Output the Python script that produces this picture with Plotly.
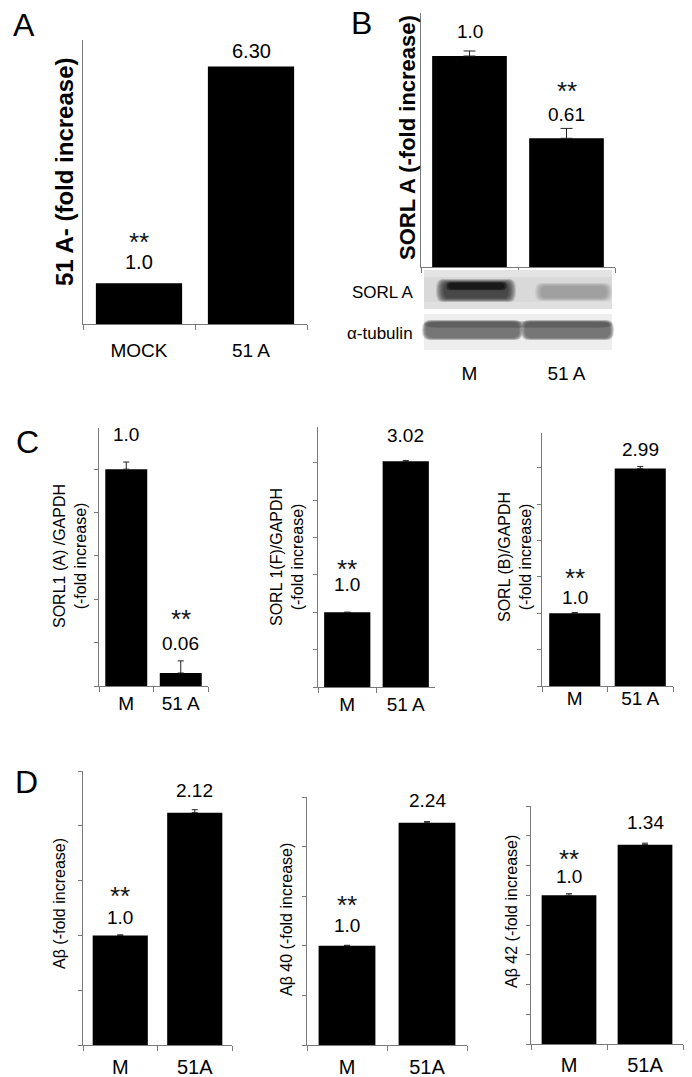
import plotly.graph_objects as go

W, H = 692, 1077

# ---------------- data ----------------
cats_A = ["MOCK", "51 A"]
cats_BC = ["M", "51 A"]
cats_D = ["M", "51A"]

vals_A = [1.0, 6.30]
vals_B = [1.0, 0.61]
vals_C1 = [1.0, 0.06]
vals_C2 = [1.0, 3.02]
vals_C3 = [1.0, 2.99]
vals_D1 = [1.0, 2.12]
vals_D2 = [1.0, 2.24]
vals_D3 = [1.0, 1.34]

err_A = [0.0, 0.0]
err_B = [0.024, 0.047]
err_C1 = [0.033, 0.056]
err_C2 = [0.0, 0.01]
err_C3 = [0.01, 0.03]
err_D1 = [0.005, 0.027]
err_D2 = [0.005, 0.012]
err_D3 = [0.01, 0.01]

labels_A = ["1.0", "6.30"]
labels_B = ["1.0", "0.61"]
labels_C1 = ["1.0", "0.06"]
labels_C2 = ["1.0", "3.02"]
labels_C3 = ["1.0", "2.99"]
labels_D1 = ["1.0", "2.12"]
labels_D2 = ["1.0", "2.24"]
labels_D3 = ["1.0", "1.34"]

stars_A = ["**", ""]
stars_B = ["", "**"]
stars_C1 = ["", "**"]
stars_C2 = ["**", ""]
stars_C3 = ["**", ""]
stars_D1 = ["**", ""]
stars_D2 = ["**", ""]
stars_D3 = ["**", ""]

ytitle_A = "<b>51 A- (fold increase)</b>"
ytitle_B = "<b>SORL A (-fold increase)</b>"
ytitle_C1 = "SORL1 (A) /GAPDH<br>(-fold increase)"
ytitle_C2 = "SORL 1(F)/GAPDH<br>(-fold increase)"
ytitle_C3 = "SORL (B)/GAPDH<br>(-fold increase)"
ytitle_D1 = "Aβ (-fold increase)"
ytitle_D2 = "Aβ 40 (-fold increase)"
ytitle_D3 = "Aβ 42 (-fold increase)"

blot_labels = ["SORL A", "α-tubulin"]
panel_letters = ["A", "B", "C", "D"]

# ---------------- layout / style ----------------
FONT = "Liberation Sans, Arial, Helvetica, sans-serif"
AX = "#7a7a7a"
STAR_FS = 26

panels = [
    dict(cats=cats_A, vals=vals_A, err=err_A, labels=labels_A, stars=stars_A, title=ytitle_A,
         box=(83, 307, 40, 324), ytop=6.95, dtick=None, bw=0.77, lab_off=[21, 16], star_vis=44,
         fs=20, tfs=24, title_xy=(65, 172), standoff=9, xfs=19, cap=4),
    dict(cats=cats_BC, vals=vals_B, err=err_B, labels=labels_B, stars=stars_B, title=ytitle_B,
         box=(421, 615, 13, 267), ytop=1.204, dtick=None, bw=0.77, lab_off=[25, 24], star_vis=50,
         fs=19, tfs=22, title_xy=(407, 138), standoff=89, xfs=19, cap=6),
    dict(cats=cats_BC, vals=vals_C1, err=err_C1, labels=labels_C1, stars=stars_C1, title=ytitle_C1,
         box=(99, 208, 428, 686), ytop=1.19, dtick=0.2, bw=0.77, lab_off=[35, 29], star_vis=57,
         fs=19, tfs=16, title_xy=(70, 556), standoff=0, xfs=19, cap=3),
    dict(cats=cats_BC, vals=vals_C2, err=err_C2, labels=labels_C2, stars=stars_C2, title=ytitle_C2,
         box=(318, 435, 427, 687), ytop=3.48, dtick=0.5, bw=0.79, lab_off=[28, 26], star_vis=46,
         fs=19, tfs=16, title_xy=(287, 557), standoff=0, xfs=19, cap=3),
    dict(cats=cats_BC, vals=vals_C3, err=err_C3, labels=labels_C3, stars=stars_C3, title=ytitle_C3,
         box=(542, 673, 433, 686), ytop=3.48, dtick=0.5, bw=0.78, lab_off=[16, 19], star_vis=38,
         fs=19, tfs=16, title_xy=(515, 557), standoff=-5, xfs=19, cap=3),
    dict(cats=cats_D, vals=vals_D1, err=err_D1, labels=labels_D1, stars=stars_D1, title=ytitle_D1,
         box=(83, 232, 771, 1045), ytop=2.5, dtick=0.5, bw=0.74, lab_off=[18, 22], star_vis=42,
         fs=19, tfs=16, title_xy=(59, 904), standoff=4, xfs=20, cap=3),
    dict(cats=cats_D, vals=vals_D2, err=err_D2, labels=labels_D2, stars=stars_D2, title=ytitle_D2,
         box=(307, 467, 797, 1045), ytop=2.5, dtick=0.5, bw=0.71, lab_off=[20, 22], star_vis=43,
         fs=19, tfs=16, title_xy=(286, 920), standoff=4, xfs=20, cap=3),
    dict(cats=cats_D, vals=vals_D3, err=err_D3, labels=labels_D3, stars=stars_D3, title=ytitle_D3,
         box=(531, 683, 806, 1044), ytop=1.6, dtick=0.2, bw=0.72, lab_off=[19, 22], star_vis=39,
         fs=19, tfs=16, title_xy=(511, 912), standoff=3, xfs=20, cap=3),
]

letter_pos = [(24, 25), (361, 23), (27, 442), (26, 782)]


def fx(px):
    return px / W


def fy(py):
    return 1 - py / H


fig = go.Figure()
annotations = []
shapes = []

for i, p in enumerate(panels):
    n = i + 1
    xa = "x" if n == 1 else f"x{n}"
    ya = "y" if n == 1 else f"y{n}"
    x0, x1, ytop_px, ybot_px = p["box"]
    fig.add_trace(go.Bar(
        x=p["cats"], y=p["vals"], xaxis=xa, yaxis=ya,
        width=[p["bw"]] * len(p["cats"]),
        marker=dict(color="black", line=dict(width=0)),
        error_y=dict(type="data", array=p["err"], arrayminus=[0] * len(p["err"]),
                     symmetric=False, color="#222", thickness=1, width=p["cap"],
                     visible=any(e > 0 for e in p["err"])),
        showlegend=False, hoverinfo="skip",
    ))
    xkey = "xaxis" if n == 1 else f"xaxis{n}"
    ykey = "yaxis" if n == 1 else f"yaxis{n}"
    fig.update_layout({
        xkey: dict(domain=[fx(x0), fx(x1)], anchor=ya, type="category",
                   range=[-0.5, len(p["cats"]) - 0.5],
                   showline=True, linecolor=AX, linewidth=1, mirror=False,
                   ticks="outside", tickson="boundaries", ticklen=5, tickcolor=AX,
                   tickwidth=1, ticklabelstandoff=p["standoff"],
                   tickfont=dict(family=FONT, size=p["xfs"], color="black"),
                   showgrid=False, zeroline=False, fixedrange=True),
        ykey: dict(domain=[fy(ybot_px), fy(ytop_px)], anchor=xa,
                   range=[0, p["ytop"]],
                   showline=True, linecolor=AX, linewidth=1,
                   ticks="outside" if p["dtick"] else "", dtick=p["dtick"],
                   tick0=0, ticklen=4, tickcolor=AX, tickwidth=1,
                   showticklabels=False, showgrid=False, zeroline=False,
                   fixedrange=True),
    })
    for j, c in enumerate(p["cats"]):
        annotations.append(dict(
            x=c, y=p["vals"][j], xref=xa, yref=ya, text=p["labels"][j],
            showarrow=False, xanchor="center", yanchor="middle",
            yshift=p["lab_off"][j], font=dict(family=FONT, size=p["fs"], color="black")))
        if p["stars"][j]:
            annotations.append(dict(
                x=c, y=p["vals"][j], xref=xa, yref=ya, text=p["stars"][j],
                showarrow=False, xanchor="center", yanchor="middle",
                yshift=p["star_vis"] - 0.1 * STAR_FS,
                font=dict(family=FONT, size=STAR_FS, color="#111")))
    tx, ty = p["title_xy"]
    annotations.append(dict(
        x=fx(tx), y=fy(ty), xref="paper", yref="paper", text=p["title"],
        textangle=-90, showarrow=False, xanchor="center", yanchor="middle",
        font=dict(family=FONT, size=p["tfs"], color="black")))

for letter, (lx, ly) in zip(panel_letters, letter_pos):
    annotations.append(dict(
        x=fx(lx), y=fy(ly), xref="paper", yref="paper", text=letter,
        showarrow=False, xanchor="center", yanchor="middle",
        font=dict(family=FONT, size=32, color="black")))


# ---------------- western blot (panel B) ----------------
def rect(x0, y0, x1, y1, color, opacity=1.0):
    shapes.append(dict(type="rect", xref="paper", yref="paper",
                       x0=fx(x0), x1=fx(x1), y0=fy(y1), y1=fy(y0),
                       fillcolor=color, opacity=opacity, line=dict(width=0), layer="above"))


def blob(x0, y0, x1, y1, color, layers=8, spread=6, op=0.15):
    # soft band: stacked, progressively smaller rounded paths
    for k in range(layers):
        d = spread * (layers - 1 - k) / max(layers - 1, 1)
        ax0, ax1 = fx(x0 - d), fx(x1 + d)
        ay0, ay1 = fy(y1 + d * 0.5), fy(y0 - d * 0.5)
        rx = (ax1 - ax0) * 0.08
        ry = (ay1 - ay0) * 0.45
        path = (f"M {ax0 + rx},{ay0} L {ax1 - rx},{ay0} Q {ax1},{ay0} {ax1},{ay0 + ry} "
                f"L {ax1},{ay1 - ry} Q {ax1},{ay1} {ax1 - rx},{ay1} L {ax0 + rx},{ay1} "
                f"Q {ax0},{ay1} {ax0},{ay1 - ry} L {ax0},{ay0 + ry} Q {ax0},{ay0} {ax0 + rx},{ay0} Z")
        shapes.append(dict(type="path", xref="paper", yref="paper", path=path,
                           fillcolor=color, opacity=op, line=dict(width=0), layer="above"))


# blot 1 (SORL A)
rect(424, 270, 612, 309, "#d9d9d9")
rect(424, 270, 612, 277, "#e8e8e8", 0.7)
rect(424, 302, 612, 309, "#e4e4e4", 0.6)
blob(444, 283, 508, 298, "#262626", layers=9, spread=8, op=0.16)
blob(449, 283, 504, 289, "#000000", layers=4, spread=3, op=0.22)
blob(541, 286, 606, 298, "#7c7c7c", layers=8, spread=6, op=0.11)
# blot 2 (alpha-tubulin)
rect(424, 314, 612, 350, "#eeeeee")
blob(426, 322, 519, 338, "#5a5a5a", layers=8, spread=4, op=0.18)
blob(525, 322, 610, 338, "#5a5a5a", layers=8, spread=4, op=0.18)
blob(426, 322, 610, 327, "#3a3a3a", layers=3, spread=2, op=0.15)

# blot labels
annotations.append(dict(x=fx(415), y=fy(292), xref="paper", yref="paper", text=blot_labels[0],
                        showarrow=False, xanchor="right", yanchor="middle",
                        font=dict(family=FONT, size=17, color="black")))
annotations.append(dict(x=fx(415), y=fy(333), xref="paper", yref="paper", text=blot_labels[1],
                        showarrow=False, xanchor="right", yanchor="middle",
                        font=dict(family=FONT, size=17, color="black")))

fig.update_layout(
    width=W, height=H, margin=dict(l=0, r=0, t=0, b=0),
    paper_bgcolor="white", plot_bgcolor="white",
    font=dict(family=FONT, color="black"),
    annotations=annotations, shapes=shapes, showlegend=False,
)

fig.write_html("out.html", config={"displayModeBar": False},
               post_script="document.body.style.margin='0';document.body.style.overflow='hidden';")
